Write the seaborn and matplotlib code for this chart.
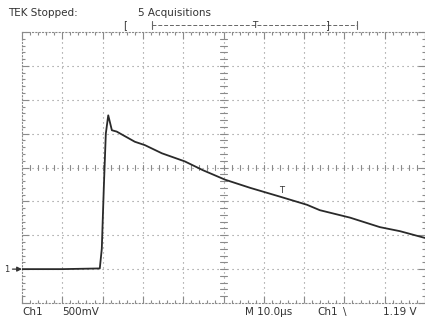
import matplotlib
matplotlib.use("Agg")
import matplotlib.pyplot as plt
from matplotlib.lines import Line2D
import seaborn as sns
import pandas as pd
import numpy as np

# trace: time in us, voltage in V (Ch1, 500 mV/div, 10 us/div)
time_us = [0.0, 10.0, 19.3, 19.8, 20.3, 20.8, 21.4, 22.3, 23.5, 28.0, 30.5, 34.7,
           40.4, 44.9, 50.4, 56.6, 64.0, 70.7, 73.9, 81.4, 88.8, 93.8, 100.0]
volts = [0.0, 0.0, 0.01, 0.3, 1.2, 2.0, 2.27, 2.05, 2.03, 1.88, 1.83, 1.71,
         1.59, 1.46, 1.32, 1.20, 1.07, 0.95, 0.87, 0.76, 0.62, 0.56, 0.46]

trig_time = 64.5
trig_level = 1.19
ground_level = 0.0

df = pd.DataFrame({"t": time_us, "v": volts})

sns.set_style("white")
plt.rcParams["font.family"] = ["DejaVu Sans"]

fig = plt.figure(figsize=(4.25, 3.2), dpi=100)
ax = fig.add_axes([22 / 425, 17 / 320, 403 / 425, 271 / 320])

grid_col = "#8a8a8a"
ax.set_xlim(0, 100)
ax.set_ylim(-0.5, 3.5)

# dotted graticule
for x in np.arange(10, 100, 10):
    ax.axvline(x, color=grid_col, lw=0.8, ls=(0, (1, 3.5)), zorder=1)
for y in np.arange(0.0, 3.5, 0.5):
    ax.axhline(y, color=grid_col, lw=0.8, ls=(0, (1, 3.5)), zorder=1)

# centre cross with minor ticks
for x in np.arange(2, 100, 2):
    ax.plot([x, x], [1.47, 1.53], color=grid_col, lw=0.8, zorder=1)
for y in np.arange(-0.4, 3.5, 0.1):
    ax.plot([49.2, 50.8], [y, y], color=grid_col, lw=0.8, zorder=1)

ax.set_xticks(np.arange(0, 101, 10))
ax.set_xticks(np.arange(0, 101, 2), minor=True)
ax.set_yticks(np.arange(-0.5, 3.6, 0.5))
ax.set_yticks(np.arange(-0.5, 3.6, 0.1), minor=True)
ax.tick_params(which="both", direction="in", top=True, right=True, left=True, bottom=True,
               color=grid_col, labelbottom=False, labelleft=False)
ax.tick_params(which="major", length=5, width=0.8)
ax.tick_params(which="minor", length=2.5, width=0.8)
for s in ax.spines.values():
    s.set_color(grid_col)
    s.set_linewidth(0.8)
    s.set_linestyle((0, (1, 2)))

sns.lineplot(data=df, x="t", y="v", ax=ax, color="#2a2a2a", lw=1.3, zorder=3)
ax.set_xlabel("")
ax.set_ylabel("")

# trigger marker on the trace
ax.text(trig_time, trig_level + 0.04, "T", fontsize=6, color="#333333", ha="center", va="top")

# ground marker
ax.annotate("1", xy=(0, ground_level), xytext=(-13, 0), textcoords="offset points",
            fontsize=6, va="center", ha="left", color="#333333", annotation_clip=False,
            arrowprops=dict(arrowstyle="-|>", color="#333333", lw=0.9,
                            mutation_scale=7, shrinkA=0, shrinkB=0))

# header / footer text
tc = "#333333"
fig.text(8 / 425, 1 - 13 / 320, "TEK Stopped:", fontsize=7.5, color=tc, va="center")
fig.text(138 / 425, 1 - 13 / 320, "5 Acquisitions", fontsize=7.5, color=tc, va="center")
fig.text(22 / 425, 1 - 312 / 320, "Ch1", fontsize=7.5, color=tc, va="center")
fig.text(62 / 425, 1 - 312 / 320, "500mV", fontsize=7.5, color=tc, va="center")
fig.text(245 / 425, 1 - 312 / 320, "M 10.0\u00b5s", fontsize=7.5, color=tc, va="center")
fig.text(317 / 425, 1 - 312 / 320, "Ch1", fontsize=7.5, color=tc, va="center")
fig.text(343 / 425, 1 - 312 / 320, "\\", fontsize=7.5, color=tc, va="center")
fig.text(383 / 425, 1 - 312 / 320, "1.19 V", fontsize=7.5, color=tc, va="center")

# record view indicator at the top
ry = 1 - 25 / 320
fig.add_artist(Line2D([152 / 425, 357 / 425], [ry, ry], color="#666666", lw=0.7, ls=(0, (4, 2))))
fig.add_artist(Line2D([152 / 425, 152 / 425], [ry - 0.012, ry + 0.012], color="#666666", lw=0.8))
fig.add_artist(Line2D([357 / 425, 357 / 425], [ry - 0.012, ry + 0.012], color="#666666", lw=0.8))
fig.text(125 / 425, ry, "[", fontsize=7, color=tc, va="center", ha="center")
fig.text(327 / 425, ry, "]", fontsize=7, color=tc, va="center", ha="center")
fig.text(255 / 425, ry, "T", fontsize=6.5, color=tc, va="center", ha="center")

fig.savefig("out.png", dpi=100, facecolor="white")
